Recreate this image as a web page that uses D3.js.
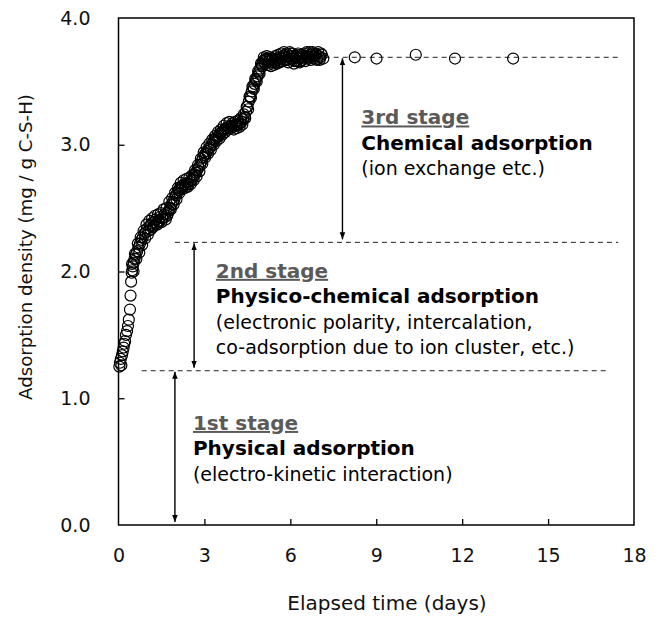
<!DOCTYPE html>
<html>
<head>
<meta charset="utf-8">
<script src="https://cdn.jsdelivr.net/npm/d3@7"></script>
<style>
body { margin: 0; background: #fff; }
text { font-family: "DejaVu Sans", Verdana, sans-serif; }
</style>
</head>
<body>
<script>
// elapsed time (days) and adsorption density (mg / g C-S-H)
var days = [0.03,0.05,0.08,0.10,0.12,0.15,0.18,0.20,0.23,0.26,0.30,0.33,0.36,0.40,0.42,0.44,0.46,0.48,
  0.50,0.53,0.56,0.60,0.65,0.70,0.75,0.80,0.85,0.90,0.95,1.00,1.05,1.10,1.15,1.20,1.25,1.30,1.35,1.40,
  1.45,1.50,1.55,1.60,1.65,1.70,1.75,1.80,1.85,1.90,1.95,2.00,2.05,2.10,2.15,2.20,2.25,2.30,2.35,2.40,
  2.45,2.50,2.55,2.60,2.65,2.70,2.75,2.80,2.85,2.90,2.95,3.00,3.05,3.10,3.15,3.20,3.25,3.30,3.35,3.40,
  3.45,3.50,3.55,3.60,3.65,3.70,3.75,3.80,3.85,3.90,3.95,4.00,4.05,4.10,4.15,4.20,4.25,4.30,4.35,4.40,
  4.45,4.50,4.55,4.60,4.65,4.70,4.75,4.80,4.85,4.90,4.95,5.00,5.05,5.10,5.15,5.20,5.25,5.30,5.35,5.40,
  5.45,5.50,5.55,5.60,5.65,5.70,5.75,5.80,5.85,5.90,5.95,6.00,6.05,6.10,6.15,6.20,6.25,6.30,6.35,6.40,
  6.45,6.50,6.55,6.60,6.65,6.70,6.75,6.80,6.85,6.90,6.95,7.00,7.05,7.10,7.15,
  8.25,9.01,10.38,11.75,13.78];
var density = [1.25,1.28,1.31,1.26,1.34,1.37,1.40,1.43,1.45,1.50,1.53,1.57,1.62,1.70,1.81,1.92,1.99,2.01,
  2.04,2.07,2.10,2.13,2.16,2.19,2.22,2.25,2.27,2.30,2.31,2.34,2.32,2.36,2.38,2.35,2.39,2.41,2.37,2.40,
  2.43,2.39,2.42,2.45,2.41,2.44,2.48,2.50,2.53,2.55,2.57,2.60,2.62,2.64,2.66,2.67,2.68,2.69,2.68,2.70,
  2.69,2.71,2.72,2.74,2.76,2.78,2.80,2.82,2.84,2.87,2.90,2.92,2.93,2.95,2.97,2.98,3.00,3.02,3.04,3.05,
  3.06,3.07,3.09,3.10,3.11,3.12,3.13,3.14,3.14,3.15,3.15,3.14,3.15,3.16,3.15,3.16,3.17,3.18,3.20,3.22,
  3.26,3.30,3.34,3.38,3.42,3.45,3.48,3.51,3.54,3.57,3.60,3.63,3.66,3.67,3.68,3.67,3.66,3.68,3.67,3.65,
  3.66,3.68,3.67,3.69,3.66,3.68,3.70,3.71,3.69,3.67,3.70,3.72,3.70,3.68,3.66,3.69,3.71,3.68,3.66,3.69,
  3.70,3.68,3.70,3.72,3.69,3.71,3.70,3.72,3.70,3.71,3.68,3.70,3.69,3.71,3.68,
  3.69,3.68,3.71,3.68,3.68];

// in-between readings (the scatter that thickens the band)
var daysB = [0.475,0.525,0.575,0.625,0.675,0.725,0.775,0.825,0.875,0.925,
  0.975,1.025,1.075,1.125,1.175,1.225,1.275,1.325,1.375,1.425,
  1.475,1.525,1.575,1.625,1.675,1.725,1.775,1.825,1.875,1.925,
  1.975,2.025,2.075,2.125,2.175,2.225,2.275,2.325,2.375,2.425,
  2.475,2.525,2.575,2.625,2.675,2.725,2.775,2.825,2.875,2.925,
  2.975,3.025,3.075,3.125,3.175,3.225,3.275,3.325,3.375,3.425,
  3.475,3.525,3.575,3.625,3.675,3.725,3.775,3.825,3.875,3.925,
  3.975,4.025,4.075,4.125,4.175,4.225,4.275,4.325,4.375,4.425,
  4.475,4.525,4.575,4.625,4.675,4.725,4.775,4.825,4.875,4.925,
  4.975,5.025,5.075,5.125,5.175,5.225,5.275,5.325,5.375,5.425,
  5.475,5.525,5.575,5.625,5.675,5.725,5.775,5.825,5.875,5.925,
  5.975,6.025,6.075,6.125,6.175,6.225,6.275,6.325,6.375,6.425,
  6.475,6.525,6.575,6.625,6.675,6.725,6.775,6.825,6.875,6.925,
  6.975,7.025,7.075];
var densityB = [2.06,2.00,2.14,2.10,2.22,2.15,2.27,2.21,2.32,2.26,
  2.37,2.29,2.40,2.33,2.42,2.36,2.44,2.38,2.45,2.39,
  2.46,2.42,2.49,2.43,2.50,2.46,2.55,2.49,2.58,2.53,
  2.62,2.57,2.66,2.62,2.70,2.65,2.72,2.66,2.73,2.67,
  2.74,2.69,2.76,2.72,2.80,2.75,2.84,2.79,2.89,2.85,
  2.94,2.90,2.98,2.93,3.01,2.96,3.04,3.00,3.07,3.03,
  3.10,3.05,3.12,3.08,3.15,3.10,3.17,3.12,3.18,3.13,
  3.17,3.12,3.18,3.13,3.19,3.14,3.21,3.16,3.24,3.21,
  3.30,3.28,3.38,3.37,3.46,3.44,3.52,3.50,3.58,3.56,
  3.64,3.62,3.69,3.64,3.70,3.63,3.69,3.62,3.68,3.63,
  3.70,3.64,3.71,3.65,3.72,3.66,3.73,3.67,3.72,3.65,
  3.73,3.68,3.72,3.64,3.70,3.66,3.72,3.65,3.71,3.67,
  3.72,3.66,3.73,3.68,3.73,3.67,3.73,3.68,3.72,3.67,
  3.73,3.67,3.72];

var xTicks = [0, 3, 6, 9, 12, 15, 18];
var yTicks = [0, 1, 2, 3, 4];

// stage boundaries: [x start, x end, level]
var guides = [[0.81, 17.1, 1.217], [1.97, 17.45, 2.23], [7.2, 17.45, 3.69]];
// arrows: [x, from, to]
var arrows = [[1.97, 0, 1.217], [2.64, 1.217, 2.23], [7.82, 2.23, 3.69]];
// annotation blocks: [x, top value, stage, name, detail lines]
var notes = [
  [2.6, 0.75, "1st stage", "Physical adsorption", ["(electro-kinetic interaction)"]],
  [3.4, 1.95, "2nd stage", "Physico-chemical adsorption", ["(electronic polarity, intercalation,", "co-adsorption due to ion cluster, etc.)"]],
  [8.48, 3.16, "3rd stage", "Chemical adsorption", ["(ion exchange etc.)"]]
];

var margin = {top: 18, right: 28, bottom: 103, left: 118.5};
var width = 662 - margin.left - margin.right;
var height = 628 - margin.top - margin.bottom;

var x = d3.scaleLinear().domain([0, 18]).range([0, width]);
var y = d3.scaleLinear().domain([0, 4]).range([height, 0]);

var svg = d3.select("body").append("svg")
  .attr("width", 662)
  .attr("height", 628);

svg.append("defs").append("marker")
  .attr("id", "head")
  .attr("viewBox", "0 0 10 10")
  .attr("refX", 10).attr("refY", 5)
  .attr("markerWidth", 7).attr("markerHeight", 7)
  .attr("markerUnits", "userSpaceOnUse")
  .attr("orient", "auto-start-reverse")
  .append("path").attr("d", "M0,1L10,5L0,9Z").attr("fill", "#000");

var g = svg.append("g")
  .attr("transform", "translate(" + margin.left + "," + margin.top + ")");

// dashed stage levels
g.selectAll(".guide").data(guides).enter().append("line")
  .attr("class", "guide")
  .attr("x1", function(d){return x(d[0])})
  .attr("x2", function(d){return x(d[1])})
  .attr("y1", function(d){return y(d[2])})
  .attr("y2", function(d){return y(d[2])})
  .attr("stroke", "#222").attr("stroke-width", 1)
  .attr("stroke-dasharray", "5,4");

g.selectAll(".arrow").data(arrows).enter().append("line")
  .attr("class", "arrow")
  .attr("x1", function(d){return x(d[0])})
  .attr("x2", function(d){return x(d[0])})
  .attr("y1", function(d){return y(d[1]) - 3})
  .attr("y2", function(d){return y(d[2]) + 1})
  .attr("stroke", "#000").attr("stroke-width", 1.4)
  .attr("marker-start", "url(#head)")
  .attr("marker-end", "url(#head)");

// measurements, drawn in time order
var points = days.map(function(d, i){return [d, density[i]]})
  .concat(daysB.map(function(d, i){return [d, densityB[i]]}))
  .sort(function(a, b){return a[0] - b[0]});

g.selectAll("circle").data(points).enter().append("circle")
  .attr("cx", function(d){return x(d[0])})
  .attr("cy", function(d){return y(d[1])})
  .attr("r", 5.5)
  .attr("fill", "none")
  .attr("stroke", "#000")
  .attr("stroke-width", 1.2);

// frame
g.append("rect")
  .attr("width", width).attr("height", height)
  .attr("fill", "none").attr("stroke", "#000").attr("stroke-width", 1.5);

var xAxis = g.append("g").attr("transform", "translate(0," + height + ")")
  .call(d3.axisBottom(x).tickValues(xTicks).tickSize(-6).tickPadding(24).tickFormat(d3.format("d")));
var yAxis = g.append("g")
  .call(d3.axisLeft(y).tickValues(yTicks).tickSize(-6).tickPadding(28).tickFormat(d3.format(".1f")));

[xAxis, yAxis].forEach(function(a){
  a.select(".domain").remove();
  a.selectAll(".tick line").attr("stroke", "#000").attr("stroke-width", 1.3);
  a.selectAll(".tick text").attr("font-size", 19).attr("fill", "#111")
    .attr("font-family", "DejaVu Sans, Verdana, sans-serif");
});
xAxis.selectAll(".tick line").filter(function(d){return d == 0 || d == 18}).remove();
yAxis.selectAll(".tick line").filter(function(d){return d == 0 || d == 4}).remove();

// stage notes
notes.forEach(function(n){
  var t = g.append("text")
    .attr("x", x(n[0]))
    .attr("y", y(n[1]))
    .attr("font-size", 19);
  t.append("tspan").attr("x", x(n[0])).attr("dy", 0)
    .attr("font-weight", "bold").attr("font-size", 20).attr("fill", "#5a5a5a")
    .attr("text-decoration", "underline").text(n[2]);
  t.append("tspan").attr("x", x(n[0])).attr("dy", 25.5)
    .attr("font-weight", "bold").attr("font-size", 20).attr("fill", "#000").text(n[3]);
  n[4].forEach(function(s){
    t.append("tspan").attr("x", x(n[0])).attr("dy", 25.5)
      .attr("fill", "#000").text(s);
  });
});

svg.append("text")
  .attr("x", 387).attr("y", 610)
  .attr("text-anchor", "middle")
  .attr("font-size", 20).attr("fill", "#111")
  .text("Elapsed time (days)");

svg.append("text")
  .attr("transform", "translate(32,247) rotate(-90)")
  .attr("text-anchor", "middle")
  .attr("font-size", 18.2).attr("fill", "#111")
  .text("Adsorption density (mg / g C-S-H)");
</script>
</body>
</html>
